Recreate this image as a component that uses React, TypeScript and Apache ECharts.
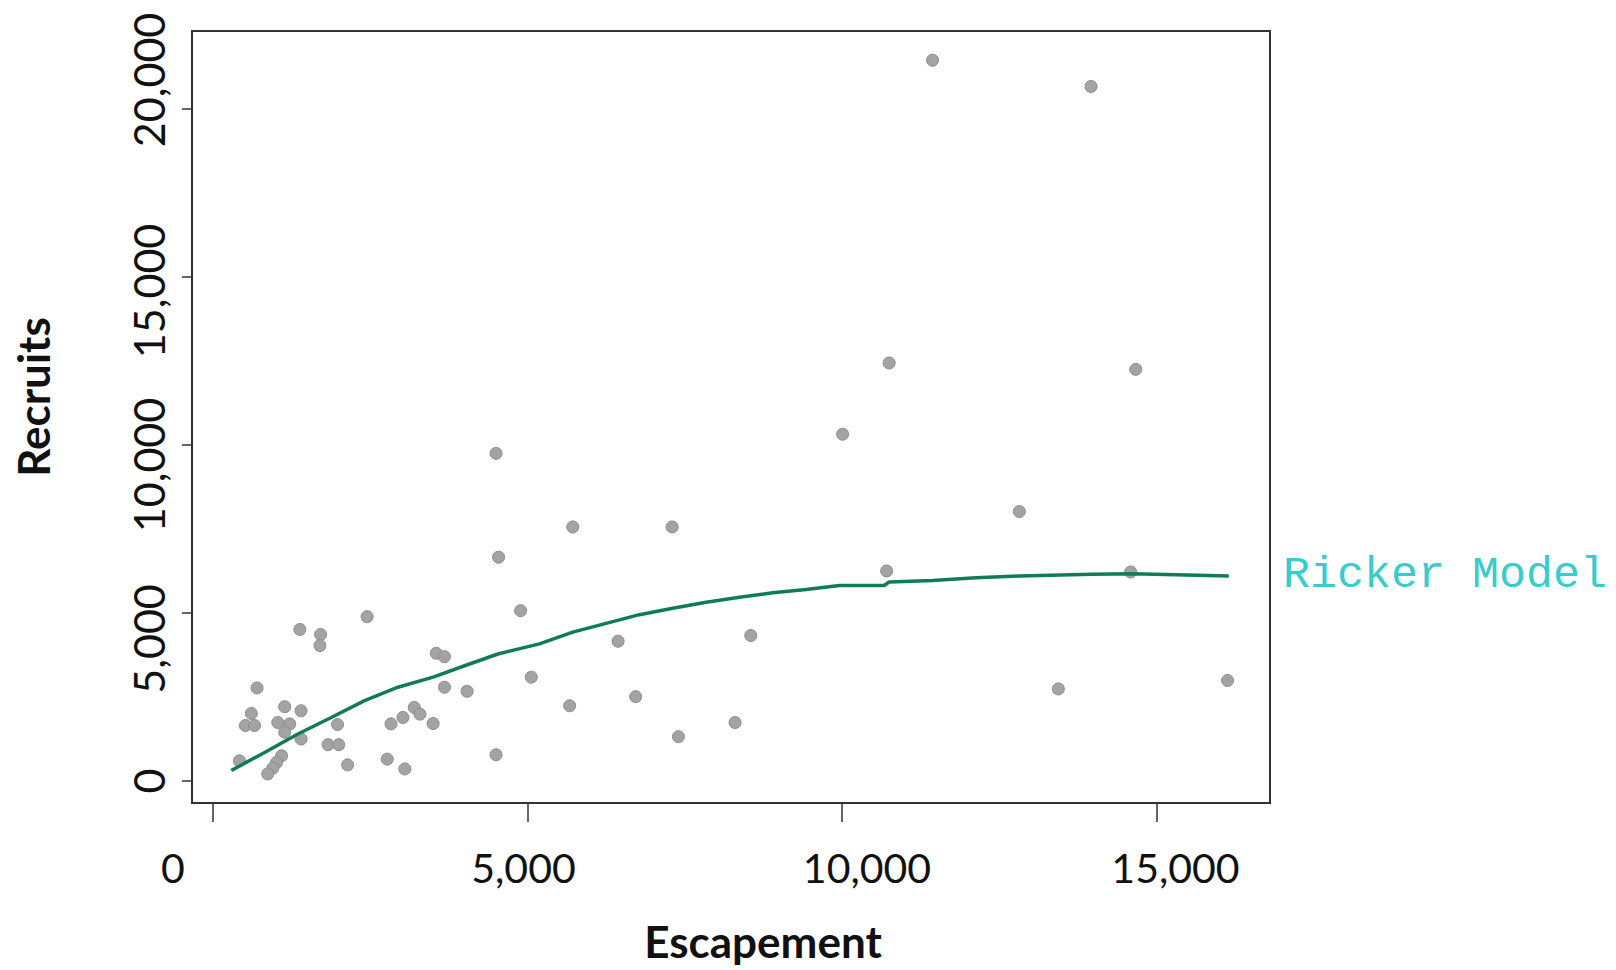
import React, { useEffect, useRef } from "react";
import * as echarts from "echarts";

const escapement = [
  4500, 4540, 4890, 2450, 1380, 1710, 1700, 3550, 3680, 5060,
  700, 3680, 4040, 1400, 1140, 610, 515, 660, 1030, 1220,
  1980, 2830, 3020, 3200, 3290, 3500, 1140, 1400, 1830, 2000,
  1090, 1010, 950, 870, 2140, 2770, 3050, 4500, 420,
  10010, 5720, 7300, 10710, 6440, 8550, 5670, 6720, 7400, 8300,
  10750, 14670, 12820, 14590, 13440, 16130, 11440, 13960,
];
const recruits = [
  9750, 6660, 5070, 4890, 4510, 4360, 4030, 3800, 3700, 3090,
  2770, 2790, 2670, 2090, 2210, 2010, 1650, 1650, 1740, 1700,
  1680, 1700, 1890, 2190, 1990, 1710, 1450, 1250, 1080, 1080,
  750, 550, 380, 210, 480, 650, 360, 780, 600,
  10320, 7560, 7560, 6250, 4160, 4330, 2240, 2510, 1320, 1740,
  12440, 12250, 8020, 6220, 2740, 2990, 21450, 20670,
];

// Ricker model curve
const curveX = [
  290, 820, 1350, 1880, 2410, 2940, 3500, 4000, 4530, 5190, 5720, 6250,
  6780, 7310, 7840, 8370, 8900, 9430, 9960, 10670, 10750, 11440, 12130,
  12820, 13980, 14620, 16150,
];
const curveY = [
  310, 850, 1400, 1890, 2390, 2790, 3090, 3430, 3780, 4080, 4430, 4690,
  4950, 5140, 5320, 5470, 5600, 5700, 5820, 5820, 5920, 5970, 6050,
  6100, 6150, 6170, 6100,
];

const tickValues = [0, 5000, 10000, 15000];
const yTickValues = [0, 5000, 10000, 15000, 20000];

const fmt = (v: number) => v.toLocaleString("en-US");

export default function App() {
  const ref = useRef<HTMLDivElement>(null);
  useEffect(() => {
    if (!ref.current) return;
    const chart = echarts.init(ref.current, null, { renderer: "svg" });
    const labelFont = {
      fontFamily: "Lato",
      fontSize: 41,
      color: "#111",
    };
    const yLabelFont = { ...labelFont, fontSize: 43 };
    const xShift: Record<string, number[]> = {
      p0: [0, 80, 0, 0],
      p5000: [0, 8, 0, 0],
      p10000: [0, 0, 0, 50],
      p15000: [0, 0, 0, 38],
    };
    const yShift: Record<string, number[]> = {
      q0: [0, 0, 0, 0],
      q5000: [0, 52, 0, 0],
      q10000: [0, 40, 0, 0],
      q15000: [0, 28, 0, 0],
      q20000: [0, 0, 0, 58],
    };
    const rich: Record<string, any> = {};
    Object.keys(xShift).forEach((k) => {
      rich[k] = { ...labelFont, padding: xShift[k] };
    });
    const yRich: Record<string, any> = {};
    Object.keys(yShift).forEach((k) => {
      yRich[k] = { ...yLabelFont, padding: yShift[k] };
    });
    chart.setOption({
      animation: false,
      backgroundColor: "#fff",
      grid: {
        show: true,
        left: 192,
        top: 31,
        right: 346,
        bottom: 167,
        borderColor: "#333",
        borderWidth: 2,
        backgroundColor: "transparent",
      },
      xAxis: {
        type: "value",
        min: -334,
        max: 16805,
        axisLine: { show: false, onZero: false },
        splitLine: { show: false },
        axisTick: {
          show: true,
          customValues: tickValues,
          length: 19,
          lineStyle: { color: "#333", width: 1.5 },
        },
        axisLabel: {
          customValues: tickValues,
          margin: 44,
          ...labelFont,
          formatter: (v: number) => `{p${v}|${fmt(v)}}`,
          rich,
        },
      },
      yAxis: {
        type: "value",
        min: -655,
        max: 22320,
        axisLine: { show: false, onZero: false },
        splitLine: { show: false },
        axisTick: {
          show: true,
          customValues: yTickValues,
          length: 10,
          lineStyle: { color: "#333", width: 1.5 },
        },
        axisLabel: {
          customValues: yTickValues,
          rotate: 90,
          margin: 22,
          ...yLabelFont,
          formatter: (v: number) => `{q${v}|${fmt(v)}}`,
          rich: yRich,
        },
      },
      series: [
        {
          type: "scatter",
          data: escapement.map((x, i) => [x, recruits[i]]),
          symbol: "circle",
          symbolSize: 12,
          itemStyle: {
            color: "#a3a3a3",
            borderColor: "#8c8c8c",
            borderWidth: 1,
            opacity: 1,
          },
          z: 2,
        },
        {
          type: "line",
          data: curveX.map((x, i) => [x, curveY[i]]),
          showSymbol: false,
          smooth: false,
          lineStyle: { color: "#107c57", width: 3.5 },
          z: 3,
        },
      ],
      graphic: [
        {
          type: "text",
          x: 33,
          y: 397,
          rotation: Math.PI / 2,
          style: {
            text: "Recruits",
            fontFamily: "Lato",
            fontWeight: "bold",
            fontSize: 44,
            fill: "#111",
            textAlign: "center",
            textVerticalAlign: "middle",
          },
        },
        {
          type: "text",
          x: 763,
          y: 941,
          style: {
            text: "Escapement",
            fontFamily: "Lato",
            fontWeight: "bold",
            fontSize: 44,
            fill: "#111",
            textAlign: "center",
            textVerticalAlign: "middle",
          },
        },
        {
          type: "text",
          x: 1283,
          y: 575,
          style: {
            text: "Ricker Model",
            fontFamily: "Liberation Mono",
            fontSize: 45,
            fill: "#38CDCD",
            textAlign: "left",
            textVerticalAlign: "middle",
          },
        },
      ],
    });
    return () => chart.dispose();
  }, []);
  return (
    <div
      ref={ref}
      style={{ position: "fixed", left: 0, top: 0, width: 1616, height: 970 }}
    />
  );
}
